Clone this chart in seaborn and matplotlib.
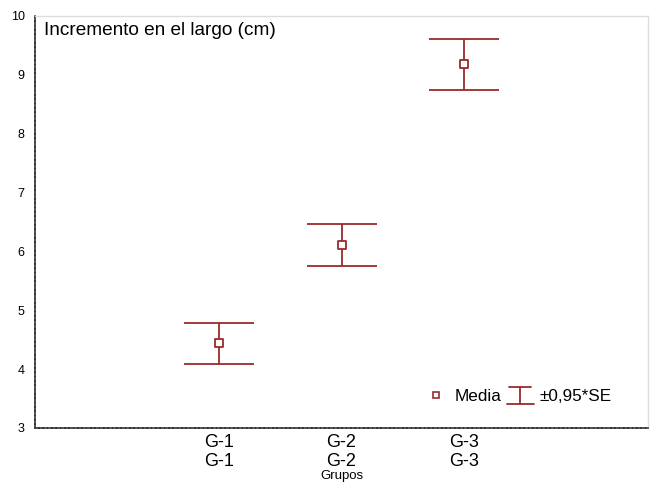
import numpy as np
import pandas as pd
import matplotlib.pyplot as plt
import seaborn as sns
from matplotlib.lines import Line2D
from matplotlib.legend_handler import HandlerBase

# data
grupos = ['G-1\nG-1', 'G-2\nG-2', 'G-3\nG-3']
medias = [4.44, 6.11, 9.18]
errores = [0.35, 0.36, 0.43]
posiciones = [1, 2, 3]

df = pd.DataFrame({'pos': posiciones, 'media': medias, 'se': errores})

sns.set_style('white')
plt.rcParams['font.family'] = ['Liberation Sans', 'DejaVu Sans']
plt.rcParams['text.color'] = 'black'
plt.rcParams['xtick.color'] = 'black'
plt.rcParams['ytick.color'] = 'black'

color = '#9a2b2b'


class HandlerIBeam(HandlerBase):
    # draws the "I" shaped whisker symbol used in the legend
    def create_artists(self, legend, orig_handle, xdescent, ydescent,
                       width, height, fontsize, trans):
        x0, x1 = -xdescent, -xdescent + width
        xm = (x0 + x1) / 2
        y0, y1 = -ydescent - 0.25 * height, -ydescent + 1.2 * height
        kw = dict(color=color, lw=1.3, transform=trans)
        return [Line2D([x0, x1], [y0, y0], **kw),
                Line2D([x0 + 0.1 * width, x1 - 0.1 * width], [y1, y1], **kw),
                Line2D([xm, xm], [y0, y1], **kw)]


fig = plt.figure(figsize=(6.53, 4.82), dpi=100)
ax = fig.add_axes([35 / 653, 1 - 428 / 482, (648 - 35) / 653, (428 - 16) / 482])

ax.errorbar(df['pos'], df['media'], yerr=df['se'], fmt='none',
            ecolor=color, elinewidth=1.3, capsize=25, capthick=1.3)
sns.scatterplot(data=df, x='pos', y='media', marker='s', s=28,
                facecolor='white', edgecolor=color, linewidth=1.3,
                ax=ax, zorder=3, legend=False)

ax.set_xlim(-0.5, 4.5)
ax.set_ylim(3, 10)
ax.set_xticks([0, 1, 2, 3, 4])
ax.set_xticklabels([''] + grupos + [''], fontsize=13, linespacing=1.15)
ax.set_yticks(range(3, 11))
ax.tick_params(axis='y', labelsize=9, length=3, width=0.8, direction='inout', pad=6)
ax.tick_params(axis='x', length=3, width=0.8, direction='inout', pad=3)

for side in ['top', 'right']:
    ax.spines[side].set_color('#dddddd')
    ax.spines[side].set_linewidth(1)
for side in ['left', 'bottom']:
    ax.spines[side].set_color('#333333')
    ax.spines[side].set_linewidth(1.2)
    ax.spines[side].set_linestyle((0, (2, 0.6)))

ax.set_xlabel('')
ax.set_ylabel('')
# axis title sits at the very bottom edge, below the two-line tick labels
fig.text(ax.get_position().x0 + ax.get_position().width * 0.5, 0.0, 'Grupos',
         fontsize=9.5, ha='center', va='bottom')
ax.text(0.015, 0.985, 'Incremento en el largo (cm)', transform=ax.transAxes,
        fontsize=13.7, va='top', ha='left')

# legend
h_media = Line2D([], [], linestyle='none', marker='s', markersize=5,
                 markerfacecolor='white', markeredgecolor=color, markeredgewidth=1.2)
h_err = Line2D([], [])
ax.legend([h_media, h_err], ['Media', '±0,95*SE'], ncol=2, frameon=False,
          loc='lower right', bbox_to_anchor=(0.965, 0.02), fontsize=12.3,
          handlelength=1.6, handletextpad=0.3, columnspacing=0.3,
          handler_map={h_err: HandlerIBeam()})

fig.savefig('out.png', dpi=100)
